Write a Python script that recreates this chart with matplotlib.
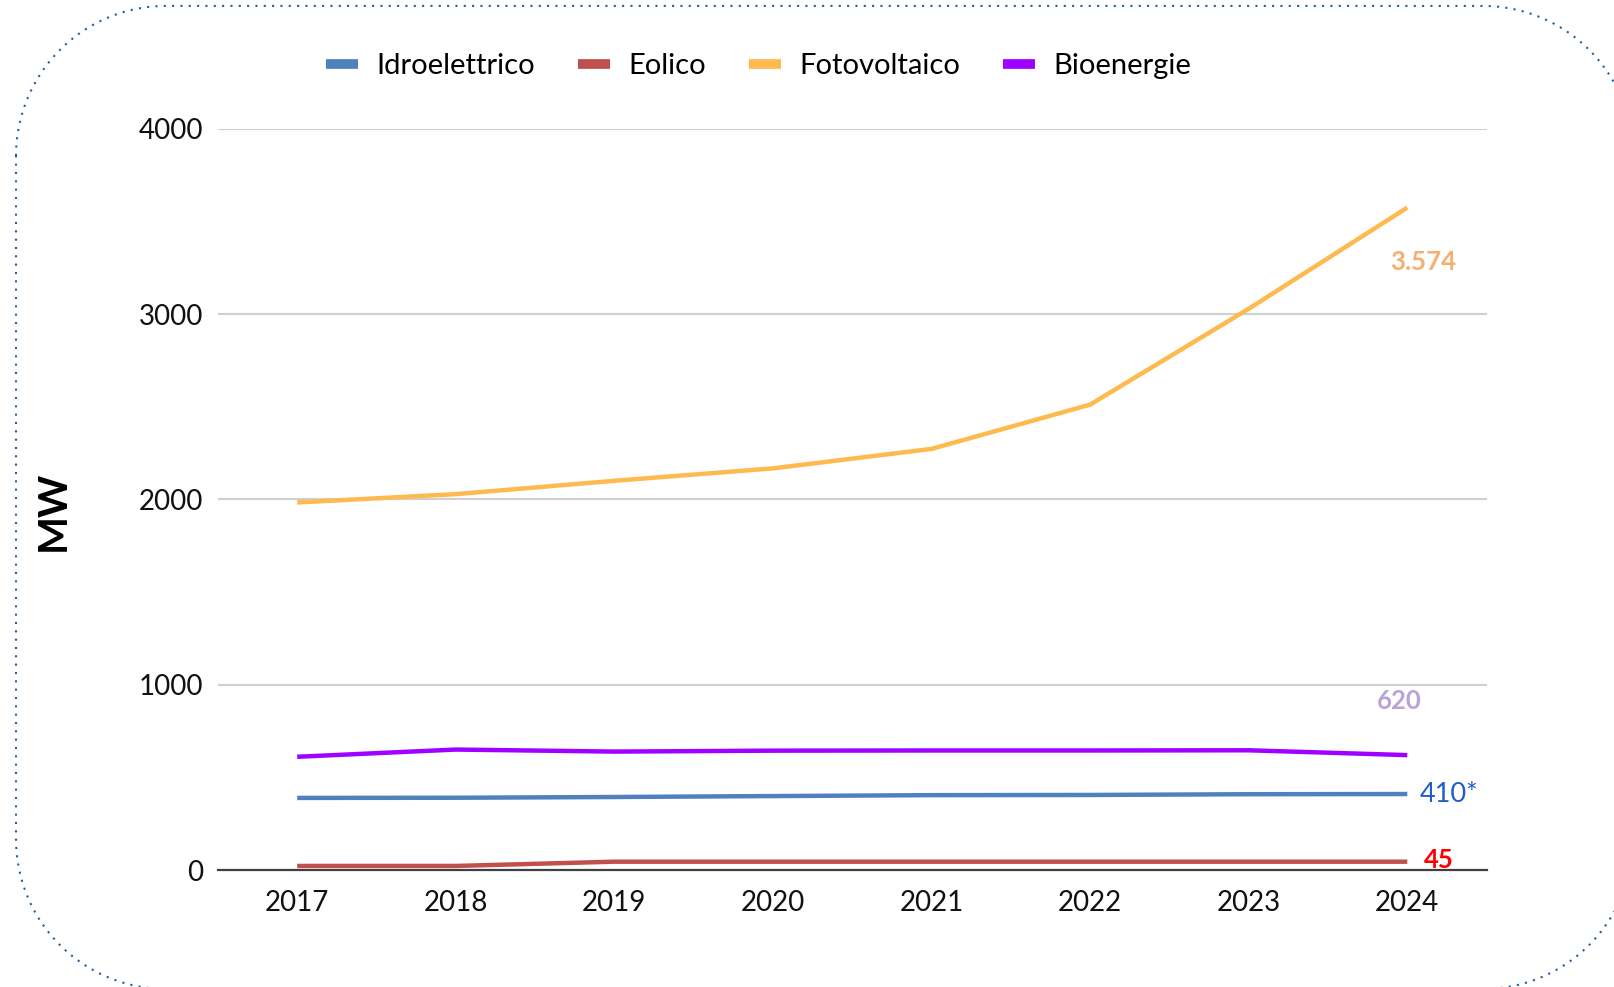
import matplotlib
matplotlib.use("Agg")
import numpy as np
import matplotlib.pyplot as plt
from matplotlib.lines import Line2D

years = [2017, 2018, 2019, 2020, 2021, 2022, 2023, 2024]
idroelettrico = [389, 390, 394, 399, 404, 405, 409, 410]
eolico = [22, 22, 45, 45, 45, 45, 45, 45]
fotovoltaico = [1983, 2028, 2100, 2167, 2272, 2511, 3028, 3574]
bioenergie = [611, 650, 639, 644, 645, 645, 646, 620]

series_names = ["Idroelettrico", "Eolico", "Fotovoltaico", "Bioenergie"]
series_colors = ["#4F81BD", "#C0504D", "#FFBA4F", "#A000FF"]
yticks = [0, 1000, 2000, 3000, 4000]

plt.rcParams['font.family'] = ['Lato', 'DejaVu Sans']

W, H = 1614, 987
fig = plt.figure(figsize=(W / 100 + 0.001, H / 100 + 0.001), dpi=100)

# dotted rounded border (pixel coordinates, origin top-left)
bax = fig.add_axes([0, 0, 1, 1])
bax.set_xlim(0, W)
bax.set_ylim(H, 0)
bax.axis('off')
x0, y0, x1, y1, r = 16, 6, 1633, 989, 150
def arc(cx, cy, a0, a1):
    t = np.radians(np.linspace(a0, a1, 60))
    return np.column_stack([cx + r * np.cos(t), cy + r * np.sin(t)])
pts = np.vstack([
    arc(x0 + r, y0 + r, 180, 270),
    arc(x1 - r, y0 + r, 270, 360),
    arc(x1 - r, y1 - r, 0, 90),
    arc(x0 + r, y1 - r, 90, 180),
])
pts = np.vstack([pts, pts[:1]])
bax.plot(pts[:, 0], pts[:, 1], color='#1F5FA0', linewidth=1.5,
         linestyle=(0, (1, 3)), clip_on=False)

ax = fig.add_axes([0.135, 0.1185, 0.786, 0.7511])
data = [idroelettrico, eolico, fotovoltaico, bioenergie]
for vals, c in zip(data, series_colors):
    ax.plot(years, vals, color=c, linewidth=3.2, solid_capstyle='butt')

ax.set_xlim(2016.5, 2024.5)
ax.set_ylim(0, 4000)
ax.set_yticks(yticks)
ax.set_yticklabels([str(v) for v in yticks])
ax.set_xticks(years)
ax.set_xticklabels([str(y) for y in years])
ax.tick_params(axis='both', length=0, labelsize=20, colors='#111111')
ax.tick_params(axis='y', pad=10.5)
ax.tick_params(axis='x', pad=14.5)
ax.grid(axis='y', color='#D0D0D0', linewidth=1.5)
ax.set_axisbelow(True)
for s in ['top', 'right', 'left']:
    ax.spines[s].set_visible(False)
ax.spines['bottom'].set_color('#404040')
ax.spines['bottom'].set_linewidth(1.6)
ax.spines['bottom'].set_zorder(1)

fig.text(53 / W, 1 - 511 / H, "MW", rotation=90, fontsize=29, fontweight='bold',
         ha='center', va='center', color='black')

# end labels
ax.text(2024.1, 3280, "3.574", color="#F4B070", fontsize=18.5, fontweight='bold', ha='center', va='center')
ax.text(2023.95, 915, "620", color="#B9A3D9", fontsize=18.5, fontweight='bold', ha='center', va='center')
ax.text(2024.08, 410, "410*", color="#1F5FC8", fontsize=19.5, ha='left', va='center')
ax.text(2024.2, 55, "45", color="#FF0000", fontsize=18.5, fontweight='bold', ha='center', va='center')

handles = [Line2D([0], [0], color=c, linewidth=7, solid_capstyle='butt') for c in series_colors]
fig.legend(handles, series_names, loc='center', bbox_to_anchor=(0.47, 0.933), ncol=4,
           frameon=False, fontsize=21, handlelength=1.1, handletextpad=0.65,
           columnspacing=1.45)

fig.savefig("out.png", dpi=100)
